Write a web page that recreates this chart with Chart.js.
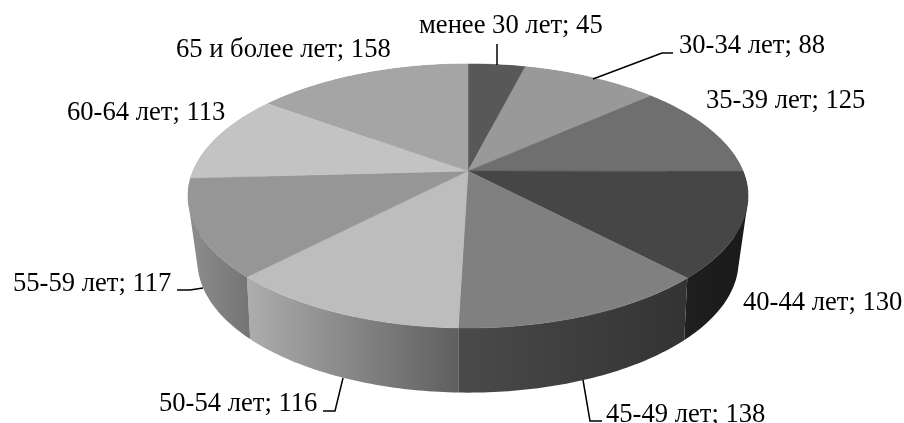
<!DOCTYPE html>
<html>
<head>
<meta charset="utf-8">
<style>
  body { margin: 0; background: #fff; }
  #wrap { position: relative; width: 904px; height: 423px; }
</style>
<script src="https://cdn.jsdelivr.net/npm/chart.js@4/dist/chart.umd.min.js"></script>
</head>
<body>
<div id="wrap"><canvas id="myChart" width="904" height="423"></canvas></div>
<script>
const categories = ['менее 30 лет', '30-34 лет', '35-39 лет', '40-44 лет', '45-49 лет', '50-54 лет', '55-59 лет', '60-64 лет', '65 и более лет'];
const values = [45, 88, 125, 130, 138, 116, 117, 113, 158];
const topColors = ['#585858', '#999999', '#6f6f6f', '#464646', '#808080', '#bdbdbd', '#969696', '#c3c3c3', '#a5a5a5'];
const wallLeft = ['#444444', '#777777', '#555555', '#1f1f1f', '#4a4a4a', '#adadad', '#8e8e8e', '#999999', '#808080'];
const wallRight = ['#444444', '#777777', '#555555', '#191919', '#333333', '#5f5f5f', '#747474', '#999999', '#808080'];

// text anchor (left, baseline) for each label
const labelAt = [[419, 33], [679, 53], [706, 108], [743, 310], [606, 422], [159, 411], [13, 291], [67, 120], [176, 57]];
// leader lines, only some slices have them
const leaders = {
  0: [[497, 44], [497, 65]],
  1: [[593, 79], [662, 53], [673, 53]],
  4: [[583, 380], [590, 421], [602, 421]],
  5: [[343, 378], [335, 411], [323, 411]],
  6: [[203, 288], [190, 290], [177, 290]]
};

// rough perspective of the disc, top rim and bottom rim
const topRim = { cx: 468, cy: 171, a: 275, b: 127.3, k: 0.189 };
const lowRim = { cx: 468, cy: 232, a: 264, b: 125.3, k: 0.22 };
// the original projection is not quite this one, degrees added at each slice start
const seamNudge = [0, -1.5, 2, 0, 0.9, -2.2, -0.4, 1.6, 1.5];

function project(rim, t) {
  // t is clockwise from 12 o'clock
  const u = Math.sin(t), v = -Math.cos(t);
  const d = 1 - rim.k * v;
  return [rim.cx + rim.a * u / d, rim.cy + rim.b * v / d];
}

function sweep(arcs, i) {
  const next = (i + 1) % arcs.length;
  const t0 = arcs[i].startAngle + Math.PI / 2 + seamNudge[i] * Math.PI / 180;
  const t1 = arcs[i].endAngle + Math.PI / 2 + seamNudge[next] * Math.PI / 180;
  return [t0, t1];
}

function rimPoints(rim, t0, t1) {
  const n = Math.max(2, Math.ceil((t1 - t0) / 0.015));
  const pts = [];
  for (let i = 0; i <= n; i++) pts.push(project(rim, t0 + (t1 - t0) * i / n));
  return pts;
}

function signedArea(q) {
  let s = 0;
  q.forEach((p, i) => {
    const n = q[(i + 1) % q.length];
    s += p[0] * n[1] - n[0] * p[1];
  });
  return s;
}

const pie3d = {
  id: 'pie3d',
  beforeDatasetsDraw(chart) {
    const ctx = chart.ctx;
    const arcs = chart.getDatasetMeta(0).data;
    ctx.save();
    // walls first, one path of thin quads so no seams show. the top hides the back half
    arcs.forEach((arc, i) => {
      const [t0, t1] = sweep(arcs, i);
      const up = rimPoints(topRim, t0, t1), low = rimPoints(lowRim, t0, t1);
      const xs = up.concat(low).map(p => p[0]);
      const g = ctx.createLinearGradient(Math.min(...xs), 0, Math.max(...xs), 0);
      g.addColorStop(0, wallLeft[i]);
      g.addColorStop(1, wallRight[i]);
      ctx.fillStyle = g;
      ctx.beginPath();
      for (let j = 0; j < up.length - 1; j++) {
        const q = [up[j], up[j + 1], low[j + 1], low[j]];
        // same winding for all, else they cancel where the wall turns at the sides
        if (signedArea(q) < 0) q.reverse();
        q.forEach((p, k) => k ? ctx.lineTo(p[0], p[1]) : ctx.moveTo(p[0], p[1]));
        ctx.closePath();
      }
      ctx.fill();
    });
    arcs.forEach((arc, i) => {
      const [t0, t1] = sweep(arcs, i);
      const color = arc.options.backgroundColor;
      ctx.fillStyle = color;
      ctx.strokeStyle = color;
      ctx.lineWidth = 0.5;
      ctx.beginPath();
      ctx.moveTo(topRim.cx, topRim.cy);
      rimPoints(topRim, t0, t1).forEach(p => ctx.lineTo(p[0], p[1]));
      ctx.closePath();
      ctx.fill();
      ctx.stroke();
    });
    ctx.restore();
    return false;
  },
  afterDraw(chart) {
    const ctx = chart.ctx;
    ctx.save();
    ctx.strokeStyle = '#000';
    ctx.lineWidth = 1.5;
    Object.values(leaders).forEach(line => {
      ctx.beginPath();
      line.forEach((p, j) => j ? ctx.lineTo(p[0], p[1]) : ctx.moveTo(p[0], p[1]));
      ctx.stroke();
    });
    ctx.fillStyle = '#000';
    ctx.font = '26.6px "Liberation Serif"';
    ctx.textAlign = 'left';
    ctx.textBaseline = 'alphabetic';
    categories.forEach((c, i) => {
      ctx.fillText(c + '; ' + values[i], labelAt[i][0], labelAt[i][1]);
    });
    ctx.restore();
  }
};

const myChart = new Chart(document.getElementById('myChart').getContext('2d'), {
  type: 'pie',
  data: {
    labels: categories,
    datasets: [{ data: values, backgroundColor: topColors, borderWidth: 0 }]
  },
  options: {
    responsive: false,
    animation: false,
    plugins: { legend: { display: false }, tooltip: { enabled: false } }
  },
  plugins: [pie3d]
});
</script>
</body>
</html>
